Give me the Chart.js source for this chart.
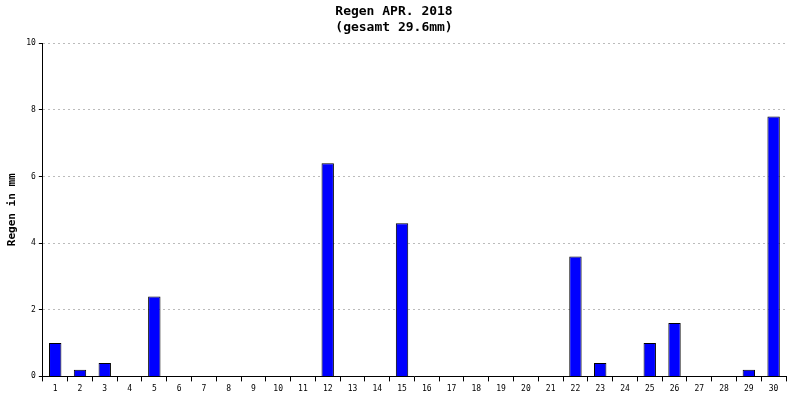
<!DOCTYPE html>
<html><head><meta charset="utf-8">
<script src="https://cdn.jsdelivr.net/npm/chart.js@4/dist/chart.umd.min.js"></script>
<style>html,body{margin:0;background:#fff}#wrap{width:800px;height:400px}</style>
</head><body><div id="wrap"><canvas id="c"></canvas></div>
<script>
const days = Array.from({length: 30}, (_, i) => String(i + 1));
const rain = [1.0,0.2,0.4,0,2.4,0,0,0,0,0,0,6.4,0,0,4.6,0,0,0,0,0,0,3.6,0.4,0,1.0,1.6,0,0,0.2,7.8];
const yTicks = [0, 2, 4, 6, 8, 10];

Chart.defaults.font.family = 'DejaVu Sans Mono';
Chart.defaults.color = '#000';

new Chart(document.getElementById('c'), {
  type: 'bar',
  data: { labels: days, datasets: [{ data: rain, backgroundColor: '#0000ff', borderColor: '#000', borderWidth: 1, barPercentage: 0.5, categoryPercentage: 1 }] },
  options: {
    responsive: true, maintainAspectRatio: false, animation: false,
    layout: { padding: { left: 2, right: 14, top: 0, bottom: 3 } },
    plugins: {
      legend: { display: false },
      tooltip: { enabled: false },
      title: { display: true, text: ['Regen APR. 2018', '(gesamt 29.6mm)'], font: { size: 13, weight: 'bold' }, padding: { top: 4, bottom: 8 }, color: '#000' }
    },
    scales: {
      x: {
        grid: { display: true, drawOnChartArea: false, color: '#000', tickLength: 5, offset: true },
        border: { color: '#000' },
        ticks: { font: { size: 8 }, maxRotation: 0, autoSkip: false }
      },
      y: {
        min: 0, max: 10,
        afterBuildTicks: s => { s.ticks = yTicks.map(v => ({ value: v })); },
        title: { display: true, text: 'Regen in mm', font: { size: 11, weight: 'bold' } },
        grid: { color: '#bbb', tickLength: 4, tickColor: '#000' },
        border: { color: '#000', dash: [2, 3] },
        ticks: { font: { size: 8 } }
      }
    }
  }
});
</script></body></html>
